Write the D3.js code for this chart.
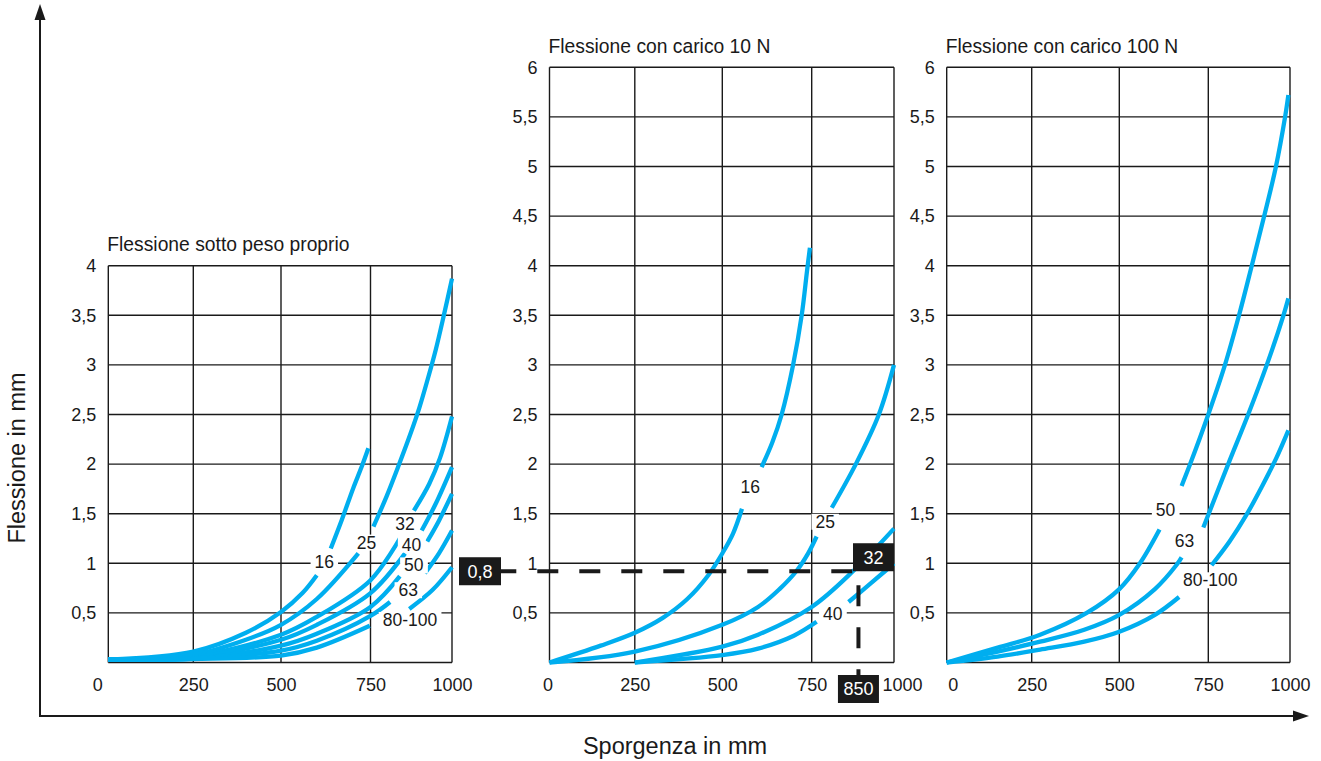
<!DOCTYPE html>
<html>
<head>
<meta charset="utf-8">
<script src="https://cdn.jsdelivr.net/npm/d3@7"></script>
<style>
  body { margin: 0; background: #fff; }
  svg { display: block; font-family: "Liberation Sans", Arial, sans-serif; }
</style>
</head>
<body>
<svg id="chart" width="1321" height="761"></svg>
<script>
// Tick values
const xTicks = [0, 250, 500, 750, 1000];
const yTicksSmall = [0.5, 1, 1.5, 2, 2.5, 3, 3.5, 4];
const yTicksLarge = [0.5, 1, 1.5, 2, 2.5, 3, 3.5, 4, 4.5, 5, 5.5, 6];

const panelTitles = ["Flessione sotto peso proprio", "Flessione con carico 10 N", "Flessione con carico 100 N"];

// Curves: each split in two pieces around its label, [sporgenza mm, flessione mm]
const seriesPeso = [
  { name: "16", lower: [[0, 0.03], [250, 0.11], [400, 0.3], [500, 0.51], [560, 0.7], [600, 0.88]],
    upper: [[639, 1.15], [670, 1.44], [702, 1.76], [725, 1.97], [744, 2.16]], tag: [621, 1.01] },
  { name: "25", lower: [[0, 0.03], [250, 0.08], [400, 0.23], [500, 0.38], [600, 0.64], [716, 1.1]],
    upper: [[759, 1.37], [800, 1.68], [838, 2.0], [872, 2.3], [900, 2.57], [925, 2.85], [950, 3.15], [975, 3.5], [1000, 3.87]], tag: [739, 1.21] },
  { name: "32", lower: [[0, 0.03], [250, 0.06], [500, 0.28], [600, 0.46], [750, 0.83], [840, 1.25]],
    upper: [[883, 1.53], [930, 1.8], [963, 2.06], [1000, 2.48]], tag: [856, 1.4] },
  { name: "40", lower: [[0, 0.03], [250, 0.05], [500, 0.23], [600, 0.38], [750, 0.7], [856, 1.1]],
    upper: [[907, 1.33], [950, 1.6], [1000, 1.97]], tag: [876, 1.19] },
  { name: "50", lower: [[0, 0.03], [250, 0.04], [500, 0.17], [600, 0.29], [750, 0.56], [840, 0.87]],
    upper: [[924, 1.22], [960, 1.43], [1000, 1.7]], tag: [883, 0.98] },
  { name: "63", lower: [[0, 0.03], [250, 0.04], [500, 0.12], [600, 0.22], [750, 0.47], [810, 0.61]],
    upper: [[917, 0.9], [960, 1.1], [1000, 1.33]], tag: [866, 0.73] },
  { name: "80-100", lower: [[0, 0.03], [250, 0.035], [500, 0.07], [600, 0.15], [748, 0.37]],
    upper: [[869, 0.54], [940, 0.73], [1000, 0.96]], tag: [871, 0.43] }
];

const series10N = [
  { name: "16", lower: [[0, 0], [150, 0.17], [250, 0.3], [330, 0.45], [400, 0.64], [460, 0.88], [500, 1.1], [530, 1.3], [555, 1.55]],
    upper: [[610, 1.97], [640, 2.22], [666, 2.5], [698, 3.0], [722, 3.5], [737, 3.95], [745, 4.18]], tag: [578, 1.77] },
  { name: "25", lower: [[0, 0], [250, 0.11], [500, 0.38], [600, 0.56], [660, 0.74], [708, 0.925], [740, 1.1], [765, 1.27]],
    upper: [[811, 1.56], [884, 2.0], [954, 2.5], [1000, 3.0]], tag: [791, 1.42] },
  { name: "32", lower: [[250, 0], [500, 0.16], [600, 0.28], [750, 0.56], [877, 0.925], [1000, 1.35]],
    upper: [], tag: null },
  { name: "40", lower: [[250, 0], [500, 0.075], [600, 0.14], [700, 0.27], [765, 0.41]],
    upper: [[862, 0.61], [930, 0.8], [976, 0.93], [1000, 1.0]], tag: [814, 0.49] }
];

const series100N = [
  { name: "50", lower: [[0, 0], [150, 0.15], [274, 0.28], [407, 0.5], [500, 0.74], [558, 1.0], [613, 1.34]],
    upper: [[675, 1.78], [699, 2.0], [750, 2.5], [801, 3.0], [844, 3.5], [883, 4.0], [921, 4.5], [957, 5.0], [985, 5.5], [995, 5.72]], tag: [630, 1.54] },
  { name: "63", lower: [[0, 0], [150, 0.11], [274, 0.21], [400, 0.33], [500, 0.48], [600, 0.74], [660, 0.98], [675, 1.06]],
    upper: [[736, 1.36], [811, 2.0], [872, 2.5], [929, 3.0], [980, 3.5], [995, 3.67]], tag: [683, 1.23] },
  { name: "80-100", lower: [[0, 0], [150, 0.06], [274, 0.13], [400, 0.21], [500, 0.31], [600, 0.48], [668, 0.66]],
    upper: [[760, 0.98], [815, 1.22], [867, 1.49], [915, 1.78], [958, 2.06], [995, 2.34]], tag: [756, 0.83] }
];

// Reading example on the 10 N chart
const guideY = 0.92;
const guideX = 892;
const guideTags = ["0,8", "32", "850"];

// Layout
const svg = d3.select("#chart");
const bottomPx = 662.5, unitPx = 99.2;
const panelX = [
  [108.3, 193.3, 281, 370.5, 452],
  [549.5, 634.8, 722.3, 811.7, 894],
  [946.7, 1031.7, 1119.3, 1208.3, 1290]
];
const zeroShift = [-11, -2, 6];
const lastShift = [0, 8, 0];
const ink = "#1a1a1a";
const blue = "#00aeef";
const fmt = d => String(d).replace(".", ",");

const panels = [
  { series: seriesPeso, yTicks: yTicksSmall },
  { series: series10N, yTicks: yTicksLarge },
  { series: series100N, yTicks: yTicksLarge }
];

const scales = [];

panels.forEach((p, i) => {
  const yMax = d3.max(p.yTicks);
  const x = d3.scaleLinear().domain(xTicks).range(panelX[i]);
  const y = d3.scaleLinear().domain([0, yMax]).range([bottomPx, bottomPx - unitPx * yMax]);
  scales.push({ x, y });
  const g = svg.append("g");

  // Grid
  g.selectAll(".hgrid").data([0, ...p.yTicks]).join("line")
    .attr("x1", x(0)).attr("x2", x(1000))
    .attr("y1", d => y(d)).attr("y2", d => y(d))
    .attr("stroke", ink).attr("stroke-width", 1.4);
  g.selectAll(".vgrid").data(xTicks).join("line")
    .attr("x1", d => x(d)).attr("x2", d => x(d))
    .attr("y1", y(0)).attr("y2", y(yMax))
    .attr("stroke", ink).attr("stroke-width", 1.4);

  // Axes
  const ax = g.append("g")
    .attr("transform", `translate(0,${bottomPx})`)
    .call(d3.axisBottom(x).tickValues(xTicks).tickSize(0).tickPadding(16).tickFormat(fmt));
  ax.select(".domain").remove();
  ax.selectAll("text")
    .attr("dx", (d, j) => j === 0 ? zeroShift[i] : (j === xTicks.length - 1 ? lastShift[i] : 0))
    .attr("font-size", 18).attr("font-family", "Liberation Sans, Arial, sans-serif").attr("fill", ink);

  const ay = g.append("g")
    .attr("transform", `translate(${x(0)},0)`)
    .call(d3.axisLeft(y).tickValues(p.yTicks).tickSize(0).tickPadding(12).tickFormat(fmt));
  ay.select(".domain").remove();
  ay.selectAll("text")
    .attr("font-size", 18).attr("font-family", "Liberation Sans, Arial, sans-serif").attr("fill", ink);

  // Title
  g.append("text")
    .attr("x", x(0) - 1).attr("y", y(yMax) - 14.5)
    .attr("font-size", 19.3).attr("fill", ink)
    .text(panelTitles[i]);

  // Curves
  const line = d3.line().x(d => x(d[0])).y(d => y(d[1])).curve(d3.curveCatmullRom.alpha(0.5));
  p.series.forEach(s => {
    [s.lower, s.upper].forEach(seg => {
      if (!seg.length) return;
      g.append("path")
        .attr("d", line(seg))
        .attr("fill", "none").attr("stroke", blue).attr("stroke-width", 4.3);
    });
  });

  // Curve labels on white patches
  p.series.filter(s => s.tag).forEach(s => {
    const lg = g.append("g");
    const t = lg.append("text")
      .attr("x", x(s.tag[0])).attr("y", y(s.tag[1]))
      .attr("dy", "0.35em").attr("text-anchor", "middle")
      .attr("font-size", 17.5).attr("fill", ink)
      .text(s.name);
    const bb = t.node().getBBox();
    lg.insert("rect", "text")
      .attr("x", bb.x - 4).attr("y", bb.y + 2)
      .attr("width", bb.width + 8).attr("height", bb.height - 4)
      .attr("fill", "#fff");
  });
});

// Reading example (10 N chart)
{
  const { x, y } = scales[1];
  const gy = y(guideY), gx = x(guideX);
  const g = svg.append("g");

  g.append("line")
    .attr("x1", 459).attr("x2", x(1000) - 41)
    .attr("y1", gy).attr("y2", gy)
    .attr("stroke", ink).attr("stroke-width", 4)
    .attr("stroke-dasharray", "21,21").attr("stroke-dashoffset", 5.7);
  g.append("line")
    .attr("x1", gx).attr("x2", gx)
    .attr("y1", gy).attr("y2", bottomPx + 35)
    .attr("stroke", ink).attr("stroke-width", 4)
    .attr("stroke-dasharray", "21,21").attr("stroke-dashoffset", 28);

  const boxes = [
    { x: 459, y: gy - 14, w: 42, h: 28 },
    { x: x(1000) - 41, y: gy - 28, w: 41, h: 28 },
    { x: gx - 20.5, y: bottomPx + 12.5, w: 41, h: 28 }
  ];
  boxes.forEach((b, j) => {
    g.append("rect").attr("x", b.x).attr("y", b.y).attr("width", b.w).attr("height", b.h).attr("fill", ink);
    g.append("text")
      .attr("x", b.x + b.w / 2).attr("y", b.y + b.h / 2)
      .attr("dy", "0.35em").attr("text-anchor", "middle")
      .attr("font-size", 18).attr("fill", "#fff")
      .text(guideTags[j]);
  });
}

// Outer axes with arrows
svg.append("line").attr("x1", 40).attr("x2", 40).attr("y1", 717).attr("y2", 18)
  .attr("stroke", ink).attr("stroke-width", 2);
svg.append("line").attr("x1", 39).attr("x2", 1294).attr("y1", 716).attr("y2", 716)
  .attr("stroke", ink).attr("stroke-width", 2);
svg.append("path").attr("d", "M40,4 L34.5,20 L45.5,20 Z").attr("fill", ink);
svg.append("path").attr("d", "M1309,716 L1293,710.5 L1293,721.5 Z").attr("fill", ink);

svg.append("text")
  .attr("transform", "translate(25,458) rotate(-90)")
  .attr("text-anchor", "middle").attr("font-size", 23.5).attr("fill", ink)
  .text("Flessione in mm");
svg.append("text")
  .attr("x", 675).attr("y", 753.5)
  .attr("text-anchor", "middle").attr("font-size", 23.5).attr("fill", ink)
  .text("Sporgenza in mm");
</script>
</body>
</html>
